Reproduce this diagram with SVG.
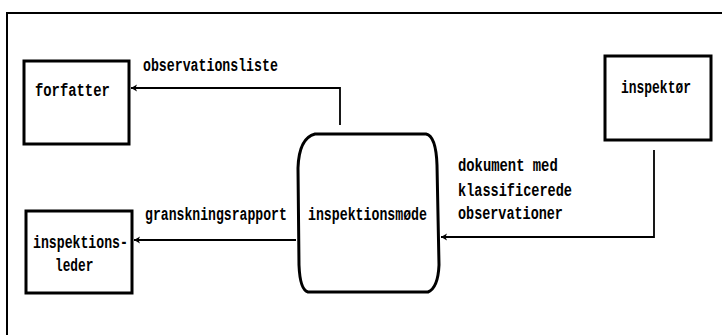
<svg xmlns="http://www.w3.org/2000/svg" width="722" height="335" viewBox="0 0 722 335">
<style>
.node{fill:#fff;stroke:#000;stroke-width:3}
.frame{fill:none;stroke:#000;stroke-width:2}
.conn{fill:none;stroke:#000;stroke-width:1.8}
text{font-family:"Liberation Mono","DejaVu Sans Mono",monospace;font-weight:bold;font-size:18px;fill:#000}
</style>
<defs>
<marker id="arr" markerWidth="8" markerHeight="10" refX="7" refY="5" orient="auto" markerUnits="userSpaceOnUse">
<path d="M7,5 L1,1.5 L2.5,5 L1,8.5 Z" fill="#000"/>
</marker>
</defs>
<rect width="722" height="335" fill="#fff"/>
<path class="frame" d="M7,335 V13 H722"/>
<g id="forfatter">
<rect class="node" x="24" y="61" width="105" height="83"/>
<text transform="translate(35,96) scale(0.77,1)">forfatter</text>
</g>
<g id="inspektionsleder">
<rect class="node" x="26" y="211" width="106" height="82"/>
<text transform="translate(33,248) scale(0.733,1)">inspektions-</text>
<text transform="translate(55,271) scale(0.71,1)">leder</text>
</g>
<g id="inspektor">
<rect class="node" x="605" y="56" width="106" height="84"/>
<text transform="translate(621,93) scale(0.72,1)">inspektør</text>
</g>
<g id="inspektionsmode">
<path class="node" d="M315,134 H426 Q436,136 437,165 L439,265 Q438,288 428,292 H308 Q300,290 299,265 L298,168 Q299,138 315,134 Z"/>
<text transform="translate(308,220) scale(0.735,1)">inspektionsmøde</text>
</g>
<g id="connectors">
<path class="conn" d="M340,125 V88 H131" marker-end="url(#arr)"/>
<path class="conn" d="M296,240 H134" marker-end="url(#arr)"/>
<path class="conn" d="M654,150 V237 H441" marker-end="url(#arr)"/>
<text transform="translate(143,71) scale(0.735,1)">observationsliste</text>
<text transform="translate(145,220) scale(0.73,1)">granskningsrapport</text>
<text transform="translate(458,171) scale(0.77,1)">dokument med</text>
<text transform="translate(458,196) scale(0.754,1)">klassificerede</text>
<text transform="translate(458,219) scale(0.748,1)">observationer</text>
</g>
</svg>
